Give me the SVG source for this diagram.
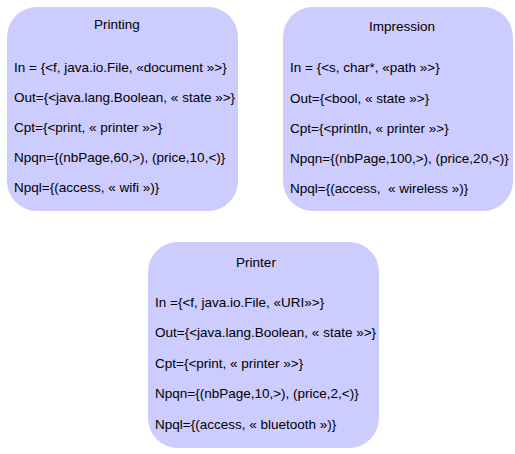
<svg xmlns="http://www.w3.org/2000/svg" width="515" height="454" viewBox="0 0 515 454">
<style>
.box{fill:#ccccff;stroke:none}
text{font-family:"Liberation Sans",Arial,sans-serif;font-size:13.5px;fill:#000}
.t{text-anchor:middle}
</style>
<rect width="515" height="454" fill="#fff"/>
<g id="printing">
<rect class="box" x="7" y="7" width="231" height="204" rx="30" ry="30"/>
<text class="t" x="117" y="29">Printing</text>
<text x="14" y="72">In = {&lt;f, java.io.File, «document »&gt;}</text>
<text x="14" y="102">Out={&lt;java.lang.Boolean, « state »&gt;}</text>
<text x="14" y="132">Cpt={&lt;print, « printer »&gt;}</text>
<text x="14" y="162">Npqn={(nbPage,60,&gt;), (price,10,&lt;)}</text>
<text x="14" y="192">Npql={(access, « wifi »)}</text>
</g>
<g id="impression">
<rect class="box" x="283" y="7" width="230" height="204" rx="30" ry="30"/>
<text class="t" x="402" y="31">Impression</text>
<text x="290" y="72">In = {&lt;s, char*, «path »&gt;}</text>
<text x="290" y="103">Out={&lt;bool, « state »&gt;}</text>
<text x="290" y="133">Cpt={&lt;println, « printer »&gt;}</text>
<text x="290" y="163">Npqn={(nbPage,100,&gt;), (price,20,&lt;)}</text>
<text x="290" y="193" xml:space="preserve">Npql={(access,  « wireless »)}</text>
</g>
<g id="printer">
<rect class="box" x="148" y="242" width="231" height="206" rx="30" ry="30"/>
<text class="t" x="256" y="267">Printer</text>
<text x="155" y="307">In ={&lt;f, java.io.File, «URI»&gt;}</text>
<text x="155" y="337">Out={&lt;java.lang.Boolean, « state »&gt;}</text>
<text x="155" y="368">Cpt={&lt;print, « printer »&gt;}</text>
<text x="155" y="398">Npqn={(nbPage,10,&gt;), (price,2,&lt;)}</text>
<text x="155" y="429">Npql={(access, « bluetooth »)}</text>
</g>
<g id="connectors"/>
</svg>
